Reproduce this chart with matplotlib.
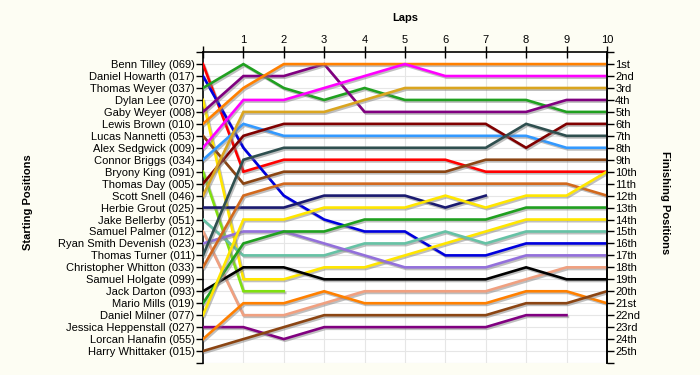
import numpy as np
import matplotlib
matplotlib.use('Agg')
import matplotlib.pyplot as plt
import matplotlib.patheffects as pe

plt.rcParams['font.family'] = 'Liberation Sans'

laps = list(range(0, 11))
n = None

drivers = ['Benn Tilley (069)', 'Daniel Howarth (017)', 'Thomas Weyer (037)', 'Dylan Lee (070)',
           'Gaby Weyer (008)', 'Lewis Brown (010)', 'Lucas Nannetti (053)', 'Alex Sedgwick (009)',
           'Connor Briggs (034)', 'Bryony King (091)', 'Thomas Day (005)', 'Scott Snell (046)',
           'Herbie Grout (025)', 'Jake Bellerby (051)', 'Samuel Palmer (012)', 'Ryan Smith Devenish (023)',
           'Thomas Turner (011)', 'Christopher Whitton (033)', 'Samuel Holgate (099)', 'Jack Darton (093)',
           'Mario Mills (019)', 'Daniel Milner (077)', 'Jessica Heppenstall (027)', 'Lorcan Hanafin (055)',
           'Harry Whittaker (015)']

# position after each lap (lap 0 = grid), None = not running
positions = [
    [1, 10, 9, 9, 9, 9, 9, 10, 10, 10, 10],
    [2, 8, 12, 14, 15, 15, 17, 17, 16, 16, 16],
    [3, 1, 3, 4, 3, 4, 4, 4, 4, 5, 5],
    [4, 19, 19, 18, 18, 17, 16, 15, 14, 14, 14],
    [5, 2, 2, 1, 5, 5, 5, 5, 5, 4, 4],
    [6, 3, 1, 1, 1, 1, 1, 1, 1, 1, 1],
    [7, 11, 10, 10, 10, 10, 10, 9, 9, 9, 9],
    [8, 4, 4, 3, 2, 1, 2, 2, 2, 2, 2],
    [9, 6, 7, 7, 7, 7, 7, 7, 7, 8, 8],
    [10, 20, 20, n, n, n, n, n, n, n, n],
    [11, 7, 6, 6, 6, 6, 6, 6, 8, 6, 6],
    [12, 5, 5, 5, 4, 3, 3, 3, 3, 3, 3],
    [13, 13, 13, 12, 12, 12, 13, 12, n, n, n],
    [14, 17, 17, 17, 16, 16, 15, 16, 15, 15, 15],
    [15, 22, 22, 21, 20, 20, 20, 20, 19, 18, 18],
    [16, 15, 15, 16, 17, 18, 18, 18, 17, 17, 17],
    [17, 9, 8, 8, 8, 8, 8, 8, 6, 7, 7],
    [18, 12, 11, 11, 11, 11, 11, 11, 11, 11, 12],
    [n, n, n, n, n, n, n, n, n, n, n],
    [20, 18, 18, 19, 19, 19, 19, 19, 18, 19, 19],
    [21, 16, 15, 15, 14, 14, 14, 14, 13, 13, 13],
    [22, 14, 14, 13, 13, 13, 12, 13, 12, 12, 10],
    [23, 23, 24, 23, 23, 23, 23, 23, 22, 22, n],
    [24, 21, 21, 20, 21, 21, 21, 21, 20, 20, 21],
    [25, 24, 23, 22, 22, 22, 22, 22, 21, 21, 20],
]

colors = ['#FF0000', '#0000DD', '#20A020', '#FFE600', '#800080', '#FF8000', '#8B4513', '#FF00FF',
          '#3399FF', '#80E010', '#800000', '#DAA520', '#1A1A70', '#66C2A5', '#F0A080', '#9370DB',
          '#2F4F4F', '#D2691E', '#999999', '#000000', '#20A020', '#FFE600', '#800080', '#FF8000',
          '#8B4513']

finish_labels = ['1st', '2nd', '3rd'] + ['%dth' % i for i in range(4, 21)] + ['21st', '22nd', '23rd', '24th', '25th']

bg = '#FDFDF3'
fig = plt.figure(figsize=(7, 3.75), dpi=100, facecolor=bg)
ax = fig.add_axes([0.29, 0.032, 0.577, 0.829])
ax.set_facecolor('white')

shadow = [pe.SimpleLineShadow(offset=(1, -1.2), shadow_color='#808080', alpha=0.5), pe.Normal()]
for pos, c in zip(positions, colors):
    y = np.array([np.nan if v is None else v for v in pos], dtype=float)
    ax.plot(laps, y, color=c, lw=1.9, solid_joinstyle='miter', path_effects=shadow, zorder=3)

ax.set_xlim(0, 10)
ax.set_ylim(26, 0)

# grid
for x in range(1, 11):
    ax.axvline(x, color='#E6E6E6', lw=0.8, zorder=1)
for y in range(1, 27):
    ax.axhline(y, color='#E6E6E6', lw=0.8, zorder=1)

ax.spines['bottom'].set_visible(False)
for s in ['top', 'left', 'right']:
    ax.spines[s].set_linewidth(1.2)
    ax.spines[s].set_color('black')

ax.xaxis.tick_top()
ax.set_xticks(laps)
ax.set_xticklabels([''] + [str(i) for i in laps[1:]], fontsize=8)
ax.tick_params(axis='x', direction='inout', length=8, width=1, pad=1)

ax.set_yticks(range(0, 27))
ax.set_yticklabels([''] + drivers + [''], fontsize=8)
ax.tick_params(axis='y', direction='out', length=5, width=1, pad=1)

ax2 = ax.twinx()
ax2.set_ylim(26, 0)
ax2.set_yticks(range(0, 27))
ax2.set_yticklabels([''] + finish_labels + [''], fontsize=8)
ax2.tick_params(axis='y', direction='out', length=5, width=1, pad=1)
for s in ['top', 'bottom', 'left']:
    ax2.spines[s].set_visible(False)
ax2.spines['right'].set_linewidth(1.2)

fig.text(0.579, 0.952, 'Laps', ha='center', va='center', fontsize=8, fontweight='bold')
fig.text(0.04, 0.46, 'Starting Positions', ha='center', va='center', rotation=90,
         fontsize=8, fontweight='bold')
fig.text(0.95, 0.46, 'Finishing Positions', ha='center', va='center', rotation=270,
         fontsize=8, fontweight='bold')

fig.savefig('out.png', dpi=100, facecolor=bg)
